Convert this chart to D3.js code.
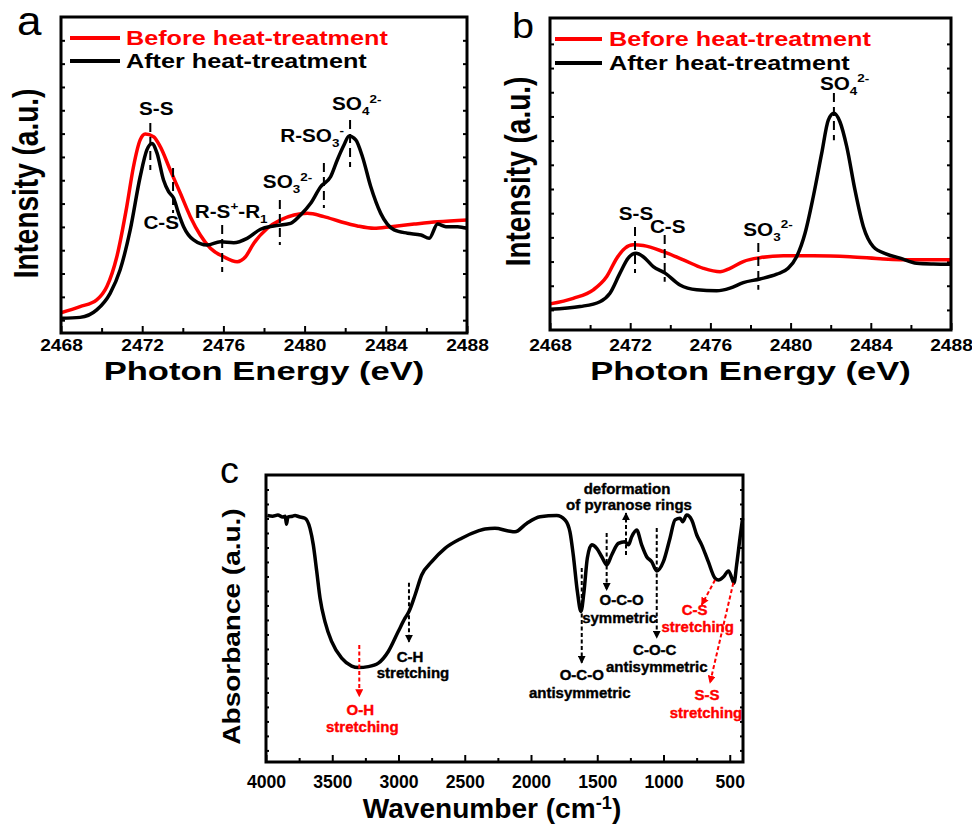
<!DOCTYPE html>
<html>
<head>
<meta charset="utf-8">
<script src="https://cdn.jsdelivr.net/npm/d3@7"></script>
<style>
  body { margin: 0; background: #fff; }
  svg text { font-family: "Liberation Sans", Arial, Helvetica, sans-serif; }
</style>
</head>
<body>
<svg id="fig" width="972" height="825"></svg>
<script>
// ---------------- data ----------------
// S K-edge XANES, panel a: [photon energy (eV), normalised intensity]
const xanesA_before = [
  [2468.00,0.032],[2468.94,0.058],[2469.76,0.087],[2470.26,0.144],[2470.75,0.272],
  [2471.24,0.487],[2471.57,0.658],[2471.90,0.773],[2472.15,0.798],[2472.56,0.787],
  [2472.89,0.744],[2473.38,0.644],[2473.88,0.544],[2474.37,0.444],[2474.86,0.365],
  [2475.36,0.308],[2476.01,0.272],[2476.68,0.251],[2477.09,0.272],[2477.50,0.330],
  [2478.17,0.394],[2478.82,0.430],[2479.48,0.451],[2480.13,0.458],[2480.95,0.444],
  [2481.78,0.422],[2482.60,0.404],[2483.42,0.394],[2484.26,0.401],[2485.40,0.412],
  [2486.55,0.422],[2488.00,0.430]
];
const xanesA_after = [
  [2468.00,0.008],[2468.94,0.012],[2469.76,0.044],[2470.42,0.115],[2470.91,0.215],
  [2471.41,0.387],[2471.90,0.615],[2472.23,0.730],[2472.48,0.758],[2472.73,0.716],
  [2473.05,0.601],[2473.30,0.551],[2473.55,0.523],[2473.79,0.458],[2474.04,0.401],
  [2474.53,0.344],[2475.20,0.322],[2475.85,0.336],[2476.51,0.332],[2477.17,0.351],
  [2477.83,0.390],[2478.48,0.404],[2479.31,0.415],[2479.80,0.451],[2480.30,0.501],
  [2480.79,0.572],[2481.28,0.615],[2481.61,0.687],[2481.94,0.751],[2482.19,0.790],
  [2482.52,0.773],[2482.85,0.701],[2483.26,0.572],[2483.75,0.458],[2484.41,0.387],
  [2485.07,0.373],[2485.73,0.365],[2486.14,0.351],[2486.55,0.412],[2486.96,0.401],
  [2487.54,0.401],[2488.00,0.394]
];
// assigned species: energy, dashed segment top/bottom (intensity units)
const peaksA = [
  { parts: [["S-S"]], energy: 2472.40, top: 0.845, bottom: 0.644 },
  { parts: [["C-S"]], energy: 2473.52, top: 0.653, bottom: 0.460 },
  { parts: [["R-S"],["+","sup"],["-R"],["1","sub"]], energy: 2475.94, top: 0.408, bottom: 0.207 },
  { parts: [["SO"],["3","sub"],["2-","sup"]], energy: 2478.78, top: 0.515, bottom: 0.322 },
  { parts: [["R-SO"],["3","sub"],["-","sup"]], energy: 2480.95, top: 0.674, bottom: 0.481 },
  { parts: [["SO"],["4","sub"],["2-","sup"]], energy: 2482.24, top: 0.858, bottom: 0.657 }
];

// S K-edge XANES, panel b
const xanesB_before = [
  [2468.00,0.025],[2469.16,0.048],[2470.16,0.083],[2470.83,0.138],[2471.33,0.214],
  [2471.74,0.255],[2472.15,0.269],[2472.65,0.266],[2473.65,0.241],[2474.65,0.207],
  [2475.65,0.172],[2476.48,0.158],[2476.98,0.172],[2477.64,0.200],[2478.47,0.216],
  [2479.64,0.224],[2481.13,0.224],[2482.96,0.220],[2484.62,0.211],[2486.12,0.207],
  [2488.00,0.207]
];
const xanesB_after = [
  [2468.00,0.003],[2469.50,0.014],[2470.49,0.034],[2470.99,0.069],[2471.49,0.152],
  [2471.90,0.214],[2472.29,0.234],[2472.65,0.220],[2473.15,0.179],[2473.74,0.152],
  [2474.48,0.103],[2475.32,0.083],[2476.31,0.079],[2476.98,0.090],[2477.64,0.113],
  [2478.47,0.128],[2479.31,0.148],[2479.88,0.172],[2480.30,0.220],[2480.72,0.317],
  [2481.13,0.468],[2481.55,0.647],[2481.88,0.785],[2482.16,0.813],[2482.46,0.778],
  [2482.80,0.675],[2483.21,0.496],[2483.63,0.344],[2484.12,0.262],[2484.79,0.231],
  [2485.46,0.214],[2486.29,0.193],[2487.12,0.190],[2488.00,0.189]
];
const peaksB = [
  { parts: [["S-S"]], energy: 2472.24, top: 0.343, bottom: 0.153 },
  { parts: [["C-S"]], energy: 2473.72, top: 0.310, bottom: 0.116 },
  { parts: [["SO"],["3","sub"],["2-","sup"]], energy: 2478.39, top: 0.277, bottom: 0.083 },
  { parts: [["SO"],["4","sub"],["2-","sup"]], energy: 2482.16, top: 0.897, bottom: 0.702 }
];

const energyTicks = [2468, 2472, 2476, 2480, 2484, 2488];
const energyMinorTicks = [2470, 2474, 2478, 2482, 2486];
const legendLabels = ["Before heat-treatment", "After heat-treatment"];
const seriesColors = ["#ff0000", "#000000"];

// FTIR spectrum, panel c: [wavenumber (cm-1), absorbance (a.u.)]
const ftir = [
  [3990,0.860],[3950,0.858],[3910,0.862],[3875,0.855],[3855,0.858],[3845,0.830],
  [3835,0.855],[3800,0.858],[3781,0.860],[3750,0.856],[3706,0.851],[3668,0.816],
  [3643,0.759],[3617,0.667],[3592,0.575],[3555,0.494],[3504,0.425],[3429,0.368],
  [3353,0.341],[3303,0.336],[3228,0.339],[3152,0.351],[3077,0.391],[3002,0.460],
  [2951,0.506],[2921,0.529],[2875,0.586],[2825,0.655],[2749,0.701],[2649,0.747],
  [2523,0.782],[2398,0.807],[2347,0.814],[2272,0.816],[2171,0.807],[2121,0.804],
  [2033,0.833],[1932,0.856],[1806,0.860],[1743,0.845],[1706,0.804],[1681,0.724],
  [1650,0.598],[1623,0.529],[1600,0.598],[1575,0.713],[1542,0.759],[1504,0.747],
  [1466,0.718],[1428,0.690],[1391,0.724],[1341,0.764],[1291,0.770],[1265,0.759],
  [1240,0.787],[1202,0.810],[1165,0.759],[1127,0.718],[1089,0.701],[1051,0.669],
  [1001,0.701],[951,0.782],[913,0.845],[875,0.851],[855,0.839],[825,0.862],
  [787,0.845],[749,0.793],[712,0.759],[662,0.701],[611,0.644],[585,0.638],
  [547,0.649],[509,0.669],[484,0.644],[468,0.627],[448,0.690],[423,0.782],[403,0.851]
];
// band assignments: arrow from -> to in [wavenumber, absorbance]
const ftirBands = [
  { title: "O-H",         note: "stretching",        color: "#ff0000", from: [3296,0.414], to: [3296,0.236] },
  { title: "C-H",         note: "stretching",        color: "#000000", from: [2921,0.628], to: [2921,0.424] },
  { title: "O-C-O",       note: "antisymmetric",     color: "#000000", from: [1617,0.679], to: [1617,0.352] },
  { title: "O-C-O",       note: "symmetric",         color: "#000000", from: [1429,0.800], to: [1429,0.603] },
  { title: "deformation", note: "of pyranose rings", color: "#000000", from: [1283,0.724], to: [1283,0.869] },
  { title: "C-O-C",       note: "antisymmetric",     color: "#000000", from: [1051,0.817], to: [1051,0.438] },
  { title: "C-S",         note: "stretching",        color: "#ff0000", from: [611,0.638],  to: [712,0.552] },
  { title: "S-S",         note: "stretching",        color: "#ff0000", from: [473,0.628],  to: [649,0.283] }
];
const wavenumberTicks = [4000, 3500, 3000, 2500, 2000, 1500, 1000, 500];
const wavenumberMinorTicks = [3750, 3250, 2750, 2250, 1750, 1250, 750];

// ---------------- helpers ----------------
const svg = d3.select("#fig");

function richText(parent, x, y, parts, o) {
  const rot = o.rotate ? ` rotate(${o.rotate})` : "";
  const t = parent.append("text")
    .attr("transform", `translate(${x},${y})${rot} scale(${o.sx || 1},${o.sy || 1})`)
    .attr("text-anchor", o.anchor || "middle")
    .attr("font-size", o.size)
    .attr("font-weight", o.weight || "bold")
    .attr("fill", o.fill || "#000");
  if (o.heavy) t.attr("stroke", o.fill || "#000").attr("stroke-width", o.heavy);
  const supRaise = o.supRaise || 0.42;
  let shift = 0;
  parts.forEach(([s, kind]) => {
    const target = kind === "sub" ? 0.3 * o.size : kind === "sup" ? -supRaise * o.size : 0;
    t.append("tspan")
      .attr("dy", target - shift)
      .attr("font-size", kind ? o.size * 0.65 : o.size)
      .text(s);
    shift = target;
  });
  return t;
}

function cleanAxis(sel) {
  sel.select(".domain").remove();
  sel.selectAll(".tick line").attr("stroke", "#000").attr("stroke-width", 2);
}

// ---------------- XANES panels ----------------
function xanesPanel(o) {
  const g = svg.append("g");
  const x = d3.scaleLinear().domain([2468, 2488]).range([o.left, o.right]);
  const y = d3.scaleLinear().domain(o.yDomain).range([o.bottom, o.top]);

  const yTicks = d3.range(0, o.yMaxTick + 1e-9, 0.1);
  g.append("g").attr("transform", `translate(${o.left},0)`)
    .call(d3.axisLeft(y).tickValues(yTicks).tickSize(-4).tickFormat(""))
    .call(cleanAxis);
  g.append("g").attr("transform", `translate(${o.right},0)`)
    .call(d3.axisRight(y).tickValues(yTicks).tickSize(-4).tickFormat(""))
    .call(cleanAxis);

  g.append("g").attr("transform", `translate(0,${o.bottom})`)
    .call(d3.axisBottom(x).tickValues(energyMinorTicks).tickSize(-5).tickFormat(""))
    .call(cleanAxis);
  const xa = g.append("g").attr("transform", `translate(0,${o.bottom})`)
    .call(d3.axisBottom(x).tickValues(energyTicks).tickSize(-7).tickFormat(d3.format("d")))
    .call(cleanAxis);
  xa.selectAll(".tick text")
    .attr("y", o.labelGap).attr("dy", null)
    .attr("font-size", 16).attr("font-weight", "bold").attr("fill", "#000")
    .attr("font-family", "Liberation Sans, Arial, sans-serif")
    .attr("transform", "scale(1.2,1)");

  // spectra
  const line = d3.line().x(d => x(d[0])).y(d => y(d[1])).curve(d3.curveMonotoneX);
  [o.before, o.after].forEach((data, i) => {
    g.append("path").datum(data)
      .attr("fill", "none").attr("stroke", seriesColors[i])
      .attr("stroke-width", 3.5).attr("stroke-linejoin", "round")
      .attr("d", line);
  });

  // assignments
  o.peaks.forEach((p, i) => {
    const px = x(p.energy);
    g.append("line")
      .attr("x1", px).attr("x2", px)
      .attr("y1", y(p.top)).attr("y2", y(p.bottom))
      .attr("stroke", "#000").attr("stroke-width", 2)
      .attr("stroke-dasharray", "9,5");
    const L = o.peakLayout[i];
    const ly = (L.ref === "top" ? y(p.top) : y(p.bottom)) + L.dy;
    richText(g, px + L.dx, ly, p.parts, { size: 18, sx: 1.15, anchor: L.anchor });
  });

  // frame
  g.append("rect")
    .attr("x", o.left).attr("y", o.top)
    .attr("width", o.right - o.left).attr("height", o.bottom - o.top)
    .attr("fill", "none").attr("stroke", "#000").attr("stroke-width", 3);

  // legend
  legendLabels.forEach((lab, i) => {
    const ly = o.legend.y + i * o.legend.step;
    g.append("line")
      .attr("x1", o.legend.x1).attr("x2", o.legend.x2)
      .attr("y1", ly).attr("y2", ly)
      .attr("stroke", seriesColors[i]).attr("stroke-width", 4);
    richText(g, o.legend.tx, ly + 6.5, [[lab]], { size: 21, sx: 1.2, anchor: "start", fill: seriesColors[i] });
  });

  // titles
  richText(g, (o.left + o.right) / 2, 380, [["Photon Energy (eV)"]], { size: 26, sx: 1.33 });
  richText(g, o.ytitle[0], o.ytitle[1], [["Intensity (a.u.)"]], { size: 28, rotate: -90, sy: 1.23 });
  richText(g, o.letter[0], o.letter[1], [[o.letter[2]]], { size: o.letter[3], weight: "normal", anchor: "start", sx: 1.1 });
}

xanesPanel({
  left: 61, right: 467, top: 17, bottom: 333, labelGap: 18.5,
  yDomain: [-0.055, 1.300], yMaxTick: 1.2,
  before: xanesA_before, after: xanesA_after, peaks: peaksA,
  peakLayout: [
    { anchor: "middle", dx: 6,   ref: "top",    dy: -8 },
    { anchor: "end",    dx: 6,   ref: "bottom", dy: 16 },
    { anchor: "middle", dx: 9,   ref: "top",    dy: -7 },
    { anchor: "start",  dx: -17, ref: "top",    dy: -12 },
    { anchor: "end",    dx: 20,  ref: "top",    dy: -21 },
    { anchor: "start",  dx: -18, ref: "top",    dy: -10 }
  ],
  legend: { x1: 70, x2: 120, tx: 126, y: 38, step: 23 },
  ytitle: [38, 183.5],
  letter: [17, 35, "a", 40]
});

xanesPanel({
  left: 550, right: 951, top: 18, bottom: 330, labelGap: 21,
  yDomain: [-0.083, 1.207], yMaxTick: 1.1,
  before: xanesB_before, after: xanesB_after, peaks: peaksB,
  peakLayout: [
    { anchor: "middle", dx: 1,   ref: "top", dy: -7 },
    { anchor: "middle", dx: 3,   ref: "top", dy: -2 },
    { anchor: "start",  dx: -15, ref: "top", dy: -7 },
    { anchor: "start",  dx: -14, ref: "top", dy: -3 }
  ],
  legend: { x1: 555, x2: 602, tx: 609, y: 39, step: 24 },
  ytitle: [530, 171.5],
  letter: [512, 38, "b", 36]
});

// ---------------- FTIR panel ----------------
(function ftirPanel() {
  const left = 266, right = 743, top = 475, bottom = 762;
  const g = svg.append("g");
  const x = d3.scaleLinear().domain([4000, 400]).range([left, right]);
  const y = d3.scaleLinear().domain([0.01, 1]).range([bottom, top]);

  const defs = svg.append("defs");
  ["#000000", "#ff0000"].forEach((c, i) => {
    defs.append("marker")
      .attr("id", "head" + i)
      .attr("viewBox", "0 0 10 10").attr("refX", 9).attr("refY", 5)
      .attr("markerWidth", 8).attr("markerHeight", 8)
      .attr("markerUnits", "userSpaceOnUse").attr("orient", "auto")
      .append("path").attr("d", "M0,0 L10,5 L0,10 z").attr("fill", c);
  });

  const yTicks = d3.range(0.05, 0.96, 0.05);
  g.append("g").attr("transform", `translate(${left},0)`)
    .call(d3.axisLeft(y).tickValues(yTicks).tickSize(-3).tickFormat(""))
    .call(cleanAxis);
  g.append("g").attr("transform", `translate(${right},0)`)
    .call(d3.axisRight(y).tickValues(yTicks).tickSize(-3).tickFormat(""))
    .call(cleanAxis);
  g.append("g").attr("transform", `translate(0,${bottom})`)
    .call(d3.axisBottom(x).tickValues(wavenumberMinorTicks).tickSize(-4).tickFormat(""))
    .call(cleanAxis);
  const xa = g.append("g").attr("transform", `translate(0,${bottom})`)
    .call(d3.axisBottom(x).tickValues(wavenumberTicks).tickSize(-7).tickFormat(d3.format("d")))
    .call(cleanAxis);
  xa.selectAll(".tick text")
    .attr("y", 26).attr("dy", null)
    .attr("font-size", 18).attr("font-weight", "bold").attr("fill", "#000")
    .attr("font-family", "Liberation Sans, Arial, sans-serif")
    .attr("transform", "scale(0.98,1)");

  const line = d3.line().x(d => x(d[0])).y(d => y(d[1])).curve(d3.curveMonotoneX);
  g.append("path").datum(ftir)
    .attr("fill", "none").attr("stroke", "#000")
    .attr("stroke-width", 3.5).attr("stroke-linejoin", "round")
    .attr("d", line);

  // text placement relative to each arrow tip: [dx1, dy1, dx2, dy2]
  const bandText = [
    [1, 19, 3, 36], [1, 20, 4, 36], [0, 17, -2, 35], [15, 15, 13, 33],
    [1, -19, 3, -3], [-2, 17, 0, 34], [-7, 10, -4, 27], [-3, 17, -4, 35]
  ];
  ftirBands.forEach((b, i) => {
    const x1 = x(b.from[0]), y1 = y(b.from[1]);
    const x2 = x(b.to[0]), y2 = y(b.to[1]);
    g.append("line")
      .attr("x1", x1).attr("y1", y1).attr("x2", x2).attr("y2", y2)
      .attr("stroke", b.color).attr("stroke-width", 2)
      .attr("stroke-dasharray", "4,2.5")
      .attr("marker-end", `url(#head${b.color === "#ff0000" ? 1 : 0})`);
    const L = bandText[i];
    richText(g, x2 + L[0], y2 + L[1], [[b.title]], { size: 15, fill: b.color, heavy: 0.4 });
    richText(g, x2 + L[2], y2 + L[3], [[b.note]], { size: 15, fill: b.color, heavy: 0.4 });
  });

  g.append("rect")
    .attr("x", left).attr("y", top)
    .attr("width", right - left).attr("height", bottom - top)
    .attr("fill", "none").attr("stroke", "#000").attr("stroke-width", 3);

  richText(g, 492, 818, [["Wavenumber (cm"], ["-1", "sup"], [")"]], { size: 27, sx: 1.04, supRaise: 0.34 });
  richText(g, 240, 626.5, [["Absorbance (a.u.)"]], { size: 28, rotate: -90, sy: 0.85 });
  richText(g, 220, 483, [["c"]], { size: 36, weight: "normal", anchor: "start", sx: 1.05 });
})();
</script>
</body>
</html>
